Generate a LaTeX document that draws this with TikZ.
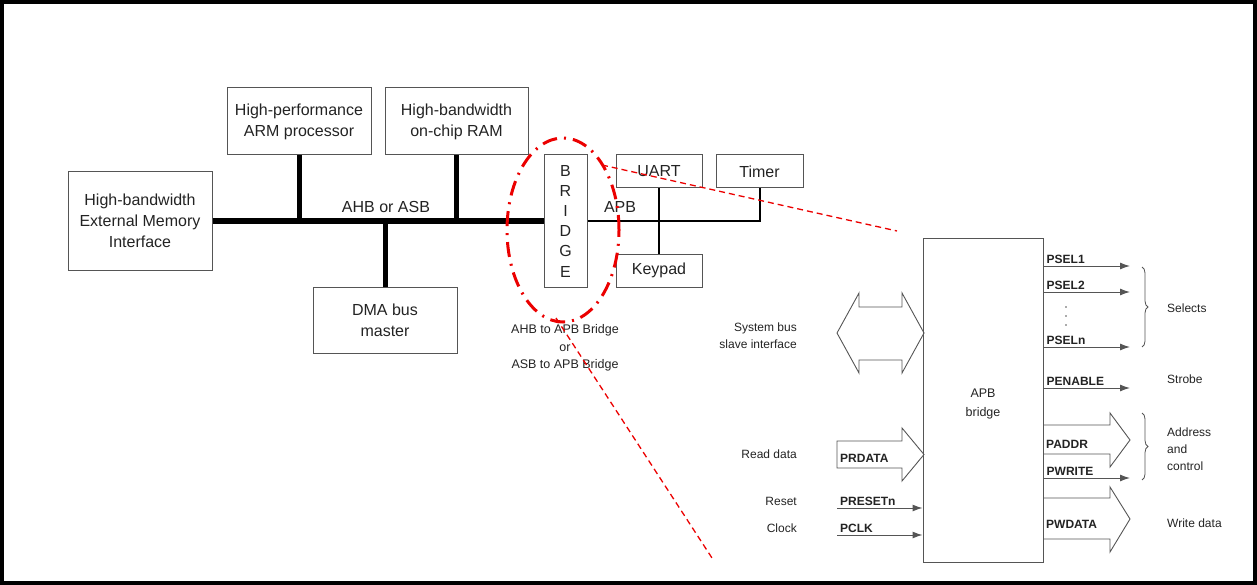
\documentclass[tikz,border=0pt]{standalone}
\usepackage{fontspec}
\setmainfont{Liberation Sans}
\usetikzlibrary{arrows.meta, decorations.pathreplacing}
\definecolor{rahmen}{RGB}{85,85,85}
\definecolor{schrift}{RGB}{35,35,35}
\definecolor{rojo}{RGB}{235,0,0}

\begin{document}
\begin{tikzpicture}[x=1pt, y=-1pt,
  every node/.style={text=schrift, align=center, inner sep=0pt},
  box/.style={draw=rahmen, line width=1pt, font=\fontsize{16}{21}\selectfont},
  mainbus/.style={line width=6pt, black},
  drop/.style={line width=5pt, black},
  apbbus/.style={line width=2pt, black},
  sig/.style={draw=rahmen, line width=1pt, -{Latex[length=10pt, width=7pt]}},
  blockarrow/.style={draw=rahmen, line width=0.9pt, line join=miter},
  signame/.style={font=\fontsize{12}{14}\selectfont\bfseries, anchor=base west},
  note/.style={font=\fontsize{12}{17}\selectfont},
  zoomline/.style={rojo, line width=1.3pt, dash pattern=on 6pt off 4pt}]
\useasboundingbox (0,0) rectangle (1257,585);
\draw[line width=4pt] (2,2) rectangle (1255,583);

% system on the AHB / ASB
\node[box, minimum width=144pt, minimum height=99pt] (ext) at (140,221) {High-bandwidth\\External Memory\\Interface};
\node[box, minimum width=144pt, minimum height=67pt] (arm) at (299,121.5) {High-performance\\ARM processor};
\node[box, minimum width=143pt, minimum height=67pt] (ram) at (456.5,121.5) {High-bandwidth\\on-chip RAM};
\node[box, minimum width=144pt, minimum height=66pt] (dma) at (385,320) {DMA bus\\master};
\node[box, minimum width=43pt, minimum height=133pt, font=\fontsize{16}{20.2}\selectfont] (bridge) at (565.5,221) {B\\R\\I\\D\\G\\E};
\node[box, minimum width=86pt, minimum height=33pt] (uart) at (659,171.5) {UART};
\node[box, minimum width=87pt, minimum height=33pt] (timer) at (759.5,171.5) {Timer};
\node[box, minimum width=86pt, minimum height=33pt] (keypad) at (659,270.5) {Keypad};

\draw[mainbus] (ext.east) -- (bridge.west);
\draw[drop] (arm.south) -- (arm.south |- ext.east);
\draw[drop] (ram.south) -- (ram.south |- ext.east);
\draw[drop] (dma.north) -- (dma.north |- ext.east);
\draw[apbbus] (bridge.east) -- (bridge.east -| timer.south) -- (timer.south);
\draw[apbbus] (uart.south) -- (keypad.north);

\node[font=\fontsize{16}{21}\selectfont] (ahblab) at (386,207) {AHB or ASB};
\node[font=\fontsize{16}{21}\selectfont] (apblab) at (620,207) {APB};
\node[font=\fontsize{12.5}{17.5}\selectfont] (caption) at (565,348) {AHB to APB Bridge\\or\\ASB to APB Bridge};

% red marking
\draw[rojo, line width=3pt, dash pattern=on 15pt off 7pt on 2pt off 7pt] (563,230) ellipse [x radius=56pt, y radius=92pt];
\coordinate (zoomA) at (602,165);
\coordinate (zoomB) at (897,231);
\coordinate (zoomC) at (556,318);
\coordinate (zoomD) at (712,558);
\draw[zoomline] (zoomA) -- (zoomB);
\draw[zoomline] (zoomC) -- (zoomD);

% APB bridge signals
\node[draw=rahmen, line width=1pt, minimum width=120pt, minimum height=323pt] (apb) at (983,400.5) {};
\node[font=\fontsize{12.5}{19}\selectfont] (apblabel) at (983,404) {APB\\bridge};

\draw[blockarrow] (837,333) -- (859,293) -- (859,307) -- (902,307) -- (902,293) -- (924,333)
  -- (902,373) -- (902,360) -- (859,360) -- (859,373) -- cycle;
\draw[blockarrow] (837,441) -- (902,441) -- (902,428) -- (924,454.5) -- (902,481) -- (902,468) -- (837,468) -- cycle;
\node[signame] at (840,462) {PRDATA};

\coordinate (rst) at (837,508);
\coordinate (clk) at (837,535);
\draw[sig] (rst) -- (rst -| apb.west);
\draw[sig] (clk) -- (clk -| apb.west);
\node[signame] at (840,505) {PRESETn};
\node[signame] at (840,532) {PCLK};

\node[note, anchor=east, align=right] at (797,336) {System bus\\slave interface};
\node[note, anchor=base east] at (797,458) {Read data};
\node[note, anchor=base east] at (797,505) {Reset};
\node[note, anchor=base east] at (797,532) {Clock};

\foreach \y/\name in {266/PSEL1, 292/PSEL2, 347/PSELn, 388/PENABLE, 478/PWRITE} {
  \coordinate (out) at (1130,\y);
  \draw[sig] (out -| apb.east) -- (out);
  \node[signame, xshift=3pt, yshift=3pt] at (out -| apb.east) {\name};
}
\foreach \y in {307,316,325}
  \fill[rahmen] (1066,\y) circle (0.8pt);

\draw[blockarrow] (1043,425) -- (1110,425) -- (1110,413) -- (1130,440) -- (1110,467) -- (1110,454) -- (1043,454);
\draw[blockarrow] (1043,498) -- (1110,498) -- (1110,487) -- (1130,519) -- (1110,552) -- (1110,539) -- (1043,539);
\node[signame] at (1046,448) {PADDR};
\node[signame] at (1046,528) {PWDATA};

\draw[rahmen, line width=0.8pt, decorate, decoration={brace, amplitude=6pt}] (1142,267) -- (1142,347);
\draw[rahmen, line width=0.8pt, decorate, decoration={brace, amplitude=6pt}] (1142,413) -- (1142,480);
\node[note, anchor=base west] at (1167,312) {Selects};
\node[note, anchor=base west] at (1167,383) {Strobe};
\node[note, anchor=west, align=left] at (1167,449) {Address\\and\\control};
\node[note, anchor=base west] at (1167,527) {Write data};
\end{tikzpicture}
\end{document}
